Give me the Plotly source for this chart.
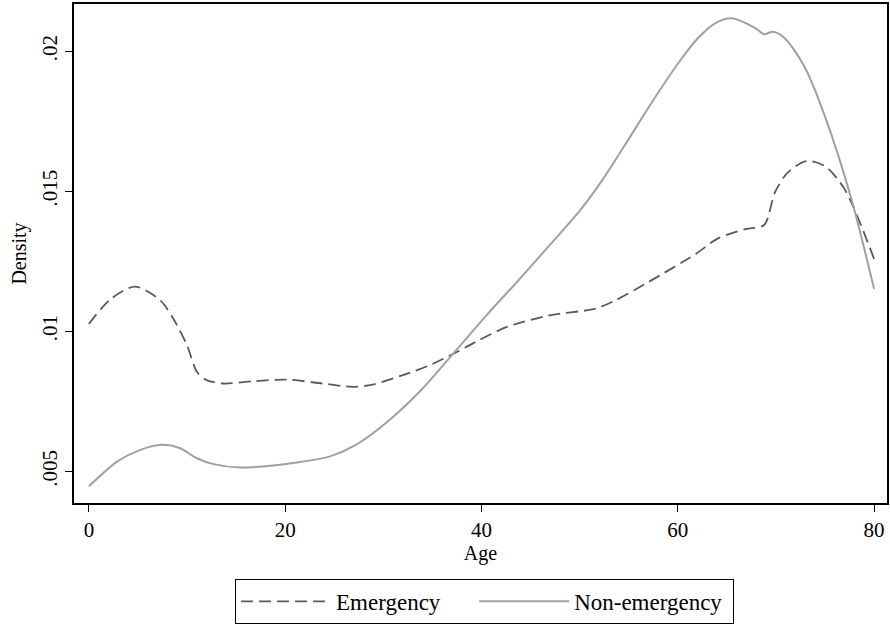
import plotly.graph_objects as go

age_emerg = [0, 2.2, 4.7, 7.3, 8.6, 10.0, 11.0, 12.0, 13.7, 16.8, 20.1, 23.8, 26.9, 28.9, 32.0, 34.7, 37.2, 39.4, 42.6, 46.9, 51.6, 53.6, 57.0, 61.8, 64.1, 66.9, 68.8, 69.9, 71.2, 73.1, 75.0, 77.0, 80.0]
dens_emerg = [0.01027, 0.01115, 0.0116, 0.0111, 0.01045, 0.0095, 0.00856, 0.00826, 0.00814, 0.00822, 0.00828, 0.00814, 0.00802, 0.0081, 0.00844, 0.00879, 0.00921, 0.00962, 0.01016, 0.01057, 0.01081, 0.0111, 0.01176, 0.01276, 0.01332, 0.01365, 0.0138, 0.01496, 0.01567, 0.01608, 0.0159, 0.01508, 0.01259]

age_non = [0, 2.9, 5.25, 7.45, 9.3, 11.0, 12.7, 15.4, 18.8, 20.8, 24.5, 27.2, 30.6, 34.0, 37.4, 40.8, 43.5, 46.9, 50.0, 52.5, 54.7, 57.4, 60.1, 62.0, 63.8, 65.5, 67.9, 68.8, 69.7, 70.9, 72.9, 75.0, 77.7, 80.0]
dens_non = [0.00447, 0.00536, 0.00577, 0.00595, 0.00583, 0.00547, 0.00526, 0.00514, 0.00521, 0.0053, 0.00553, 0.00595, 0.00683, 0.00796, 0.00932, 0.01069, 0.01172, 0.01306, 0.01430, 0.01550, 0.0167, 0.0182, 0.0196, 0.02045, 0.02100, 0.02118, 0.02083, 0.02061, 0.0207, 0.02047, 0.01946, 0.01768, 0.01472, 0.01152]

x_ticks = [0, 20, 40, 60, 80]
y_ticks = [0.005, 0.01, 0.015, 0.02]
y_tick_labels = [".005", ".01", ".015", ".02"]
series_names = ["Emergency\u00a0\u00a0\u00a0\u00a0\u00a0", "Non-emergency\u00a0"]

FONT = "Liberation Serif"

fig = go.Figure()
fig.add_trace(go.Scatter(
    x=age_emerg, y=dens_emerg, mode="lines", name=series_names[0],
    line=dict(color="#5a5a5a", width=1.8, dash="12px,6px", shape="spline", smoothing=0.8),
))
fig.add_trace(go.Scatter(
    x=age_non, y=dens_non, mode="lines", name=series_names[1],
    line=dict(color="#a0a0a0", width=2, shape="spline", smoothing=0.8),
))

fig.update_layout(
    width=890, height=625,
    margin=dict(l=74, r=1, t=4, b=120),
    paper_bgcolor="white", plot_bgcolor="white",
    font=dict(family=FONT, size=20, color="black"),
    showlegend=True,
    legend=dict(
        orientation="h", x=0.505, xanchor="center", y=-0.152, yanchor="top",
        bordercolor="black", borderwidth=1, font=dict(family=FONT, size=23),
        itemwidth=90, tracegroupgap=0,
    ),
    xaxis=dict(
        range=[-1.52, 81.32], tickvals=x_ticks, ticks="outside", ticklen=7,
        tickcolor="black", showline=True, linecolor="black", linewidth=1.5, mirror=True,
        showgrid=False, zeroline=False,
        title=dict(text="Age", font=dict(family=FONT, size=20), standoff=4),
        tickfont=dict(family=FONT, size=21),
    ),
    yaxis=dict(
        range=[0.003873, 0.021689], tickvals=y_ticks, ticktext=y_tick_labels,
        ticks="outside", ticklen=7, tickcolor="black", tickangle=-90,
        showline=True, linecolor="black", linewidth=1.5, mirror=True,
        showgrid=False, zeroline=False,
        title=dict(text="Density", font=dict(family=FONT, size=20), standoff=6),
        tickfont=dict(family=FONT, size=21),
    ),
)

fig.write_html("out.html")
